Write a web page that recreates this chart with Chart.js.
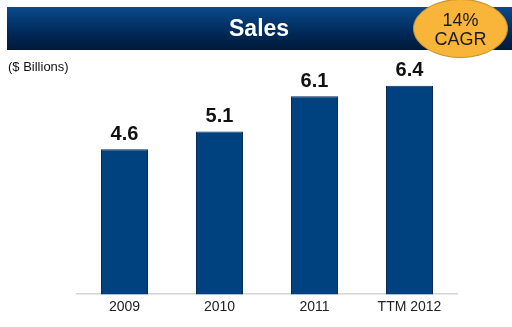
<!DOCTYPE html>
<html>
<head>
<meta charset="utf-8">
<script src="https://cdn.jsdelivr.net/npm/chart.js@4/dist/chart.umd.min.js"></script>
<style>
  html, body { margin: 0; padding: 0; background: #fff; }
  #wrap { position: relative; width: 512px; height: 327px; overflow: hidden; font-family: "Liberation Sans", Arial, sans-serif; }
  #banner {
    position: absolute; left: 7px; top: 7px; width: 505px; height: 43px;
    background: linear-gradient(#0a4a8c, #002c5c 55%, #001a3a);
    color: #fff; font-weight: bold; font-size: 23px; line-height: 42px;
  }
  #banner span { position: absolute; left: 222px; }
  #cagr {
    position: absolute; left: 413px; top: -1px; width: 95px; height: 59px;
    border-radius: 50%; background: #f9b43a; border: 1.5px solid #c8912a;
    color: #1a1a1a; font-size: 18px; line-height: 19px; text-align: center;
    display: flex; flex-direction: column; justify-content: center; padding-top: 2px;
    box-sizing: border-box;
  }
  #unit { position: absolute; left: 8px; top: 59px; font-size: 13px; color: #111; }
  #chart { position: absolute; left: 0; top: 0; }
</style>
</head>
<body>
<div id="wrap">
  <canvas id="chart" width="512" height="327"></canvas>
  <div id="banner"><span>Sales</span></div>
  <div id="cagr"><div>14%</div><div>CAGR</div></div>
  <div id="unit">($ Billions)</div>
</div>
<script>
// Datos
const categories = ["2009", "2010", "2011", "TTM 2012"];
const sales = [4.6, 5.1, 6.1, 6.4];
const valueLabels = ["4.6", "5.1", "6.1", "6.4"];

// Etiquetas de valor encima de cada barra
const valueLabelPlugin = {
  id: "valueLabels",
  afterDatasetsDraw(chart) {
    const ctx = chart.ctx;
    const meta = chart.getDatasetMeta(0);
    ctx.save();
    ctx.font = "bold 20px 'Liberation Sans', Arial, sans-serif";
    ctx.fillStyle = "#111";
    ctx.textAlign = "center";
    ctx.textBaseline = "bottom";
    meta.data.forEach((bar, i) => {
      ctx.fillText(valueLabels[i], bar.x, bar.y - 5);
    });
    ctx.restore();
  }
};

function createSalesChart() {
  const ctx = document.getElementById("chart").getContext("2d");
  new Chart(ctx, {
    type: "bar",
    data: {
      labels: categories,
      datasets: [{
        data: sales,
        backgroundColor: "#00417f",
        borderColor: "#0a2a55",
        borderWidth: 1,
        barPercentage: 0.99,
        categoryPercentage: 0.5
      }]
    },
    options: {
      responsive: false,
      animation: false,
      layout: { padding: { left: 77, right: 55, top: 80, bottom: 6 } },
      plugins: { legend: { display: false }, tooltip: { enabled: false } },
      scales: {
        x: {
          grid: { display: false, drawTicks: false, tickLength: 0 },
          border: { display: true, color: "#d4d4d4", width: 1.5 },
          ticks: {
            color: "#222",
            padding: 5,
            font: { family: "'Liberation Sans', Arial, sans-serif", size: 14 }
          }
        },
        y: {
          display: false,
          min: 0.5,
          max: 6.56
        }
      }
    },
    plugins: [valueLabelPlugin]
  });
}

document.addEventListener("DOMContentLoaded", createSalesChart);
</script>
</body>
</html>
